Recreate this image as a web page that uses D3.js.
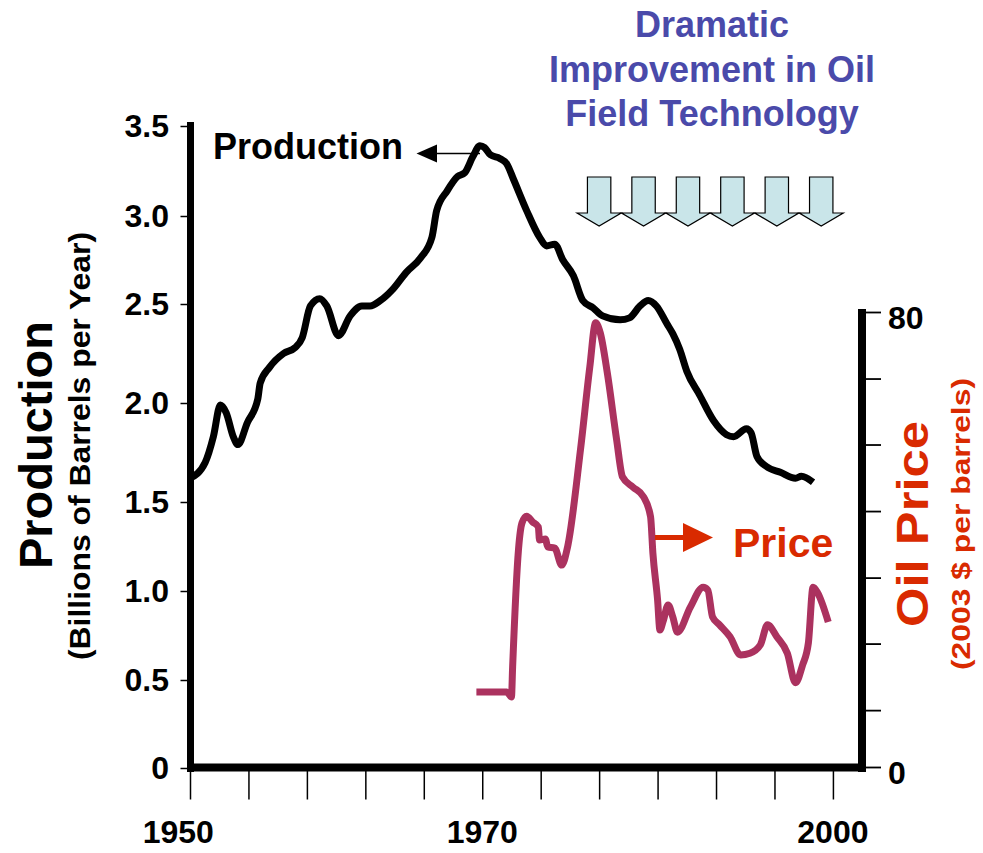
<!DOCTYPE html>
<meta charset="utf-8">
<head>
  <title>Oil production and price</title>
</head>

<style>
body {
  margin: 0;
  background: #fff;
}
svg text {
  font-family: "Liberation Sans", Arial, Helvetica, sans-serif;
  font-weight: bold;
}
</style>

<body>
  <div id="content">
    <svg width="983" height="853"></svg>
  </div>

  <script src="https://cdnjs.cloudflare.com/ajax/libs/d3/7.8.5/d3.min.js"></script>

  <script>
// production, billions of barrels per year
var prodYears = [1945.0, 1946.3, 1947.0, 1947.6, 1948.1, 1948.7, 1949.1, 1949.9, 1950.8, 1951.0,
  1951.8, 1953.0, 1954.0, 1954.6, 1955.3, 1956.1, 1956.7, 1957.7, 1958.7, 1959.7,
  1960.4, 1961.3, 1962.3, 1963.5, 1964.7, 1965.7, 1966.1, 1967.0, 1967.9, 1968.5,
  1969.2, 1969.8, 1970.2, 1970.7, 1971.5, 1972.1, 1972.7, 1973.8, 1974.9, 1975.5,
  1976.2, 1976.9, 1977.8, 1978.6, 1979.5, 1980.3, 1981.8, 1982.6, 1983.5, 1984.2,
  1984.9, 1985.8, 1986.3, 1986.9, 1987.5, 1988.6, 1989.8, 1990.9, 1991.5, 1992.6,
  1993.0, 1993.5, 1994.3, 1995.5, 1996.8, 1997.3, 1998.3];
var prodValues = [1.62, 1.70, 1.83, 1.99, 1.95, 1.83, 1.79, 1.90, 2.02, 2.10,
  2.18, 2.25, 2.28, 2.33, 2.49, 2.53, 2.49, 2.34, 2.44, 2.49,
  2.49, 2.52, 2.58, 2.68, 2.76, 2.88, 3.03, 3.14, 3.22, 3.24,
  3.33, 3.39, 3.38, 3.34, 3.32, 3.29, 3.20, 3.03, 2.88, 2.83,
  2.84, 2.75, 2.66, 2.52, 2.48, 2.44, 2.42, 2.43, 2.49, 2.52,
  2.49, 2.40, 2.35, 2.27, 2.16, 2.04, 1.91, 1.84, 1.83, 1.87,
  1.85, 1.73, 1.68, 1.65, 1.62, 1.63, 1.60];

// oil price, 2003 $ per barrel
var priceYears = [1969.5, 1972.1, 1972.5, 1972.6, 1973.1, 1973.4, 1973.8, 1974.3, 1974.8, 1974.9,
  1975.4, 1975.6, 1976.2, 1976.8, 1977.3, 1978.4, 1979.2, 1979.7, 1980.1, 1980.7,
  1981.5, 1982.0, 1982.9, 1983.8, 1984.4, 1984.6, 1985.0, 1985.2, 1985.5, 1985.9,
  1986.3, 1986.7, 1987.8, 1988.9, 1989.3, 1989.7, 1990.3, 1991.2, 1992.1, 1992.9,
  1993.8, 1994.4, 1995.2, 1996.1, 1996.8, 1997.4, 1997.9, 1998.3, 1998.7, 1999.6];
var priceValues = [13.2, 13.2, 12.3, 17.6, 38.2, 42.9, 44.1, 43.1, 42.2, 39.9,
  40.1, 38.7, 38.5, 35.5, 38.7, 55.7, 70.3, 78.1, 76.3, 69.3,
  57.5, 51.0, 49.2, 47.5, 44.0, 37.6, 29.4, 24.1, 25.8, 28.5,
  26.4, 23.7, 28.1, 31.6, 31.1, 26.4, 25.0, 22.9, 19.7, 20.0,
  21.5, 25.0, 22.9, 20.0, 14.8, 17.9, 21.8, 31.6, 30.6, 25.5];

var prodTicks = [0, 0.5, 1, 1.5, 2, 2.5, 3, 3.5];
var priceTicks = [0, 10, 21.7, 33.3, 45, 56.7, 68.3, 80];
var yearTicks = [1945, 1950, 1955, 1960, 1965, 1970, 1975, 1980, 1985, 1990, 1995, 2000];
var yearLabelYears = [1944, 1970, 2000];
var yearLabels = ['1950', '1970', '2000'];
var techArrowYears = [1980, 1983.8, 1987.6, 1991.4, 1995.2, 1999];
var titleLines = ['Dramatic', 'Improvement in Oil', 'Field Technology'];

var red = '#d92a00';

var svg = d3.select('#content svg');

var x = d3.scaleLinear()
  .domain([1945, 2002.83])
  .range([190, 866]);

// the left axis of the original is not evenly spaced
var yProd = d3.scaleLinear()
  .domain(prodTicks)
  .range([768, 680, 591, 502, 403, 304, 216, 126]);

var yPrice = d3.scaleLinear()
  .domain([0, 80])
  .range([767, 312]);

// Left axis
var gLeft = svg.append('g')
  .attr('transform', 'translate(190.5,0)')
  .call(d3.axisLeft(yProd)
    .tickValues(prodTicks)
    .tickSize(10)
    .tickSizeOuter(0)
    .tickPadding(11.5)
    .tickFormat(function(d) { return d === 0 ? '0' : d.toFixed(1); }));
gLeft.select('.domain').attr('stroke-width', 7).attr('d', 'M0,122V772');
gLeft.selectAll('.tick line').attr('stroke-width', 1.5);
gLeft.selectAll('.tick text').style('font-size', '32px').attr('fill', '#000');

// Right axis
var gRight = svg.append('g')
  .attr('transform', 'translate(862,0)')
  .call(d3.axisRight(yPrice)
    .tickValues(priceTicks)
    .tickSize(19)
    .tickSizeOuter(0)
    .tickPadding(7)
    .tickFormat(function(d) { return (d === 0 || d === 80) ? d : ''; }));
gRight.select('.domain').attr('stroke-width', 8).attr('d', 'M0,309V772');
gRight.selectAll('.tick line').attr('stroke-width', 1.8);
gRight.selectAll('.tick text').style('font-size', '32px').attr('fill', '#000').attr('dy', '0.5em');

// Bottom axis
var gBottom = svg.append('g')
  .attr('transform', 'translate(0,767.5)')
  .call(d3.axisBottom(x)
    .tickValues(yearTicks)
    .tickSize(32)
    .tickSizeOuter(0)
    .tickFormat(''));
gBottom.select('.domain').attr('stroke-width', 8).attr('d', 'M187,0H866');
gBottom.selectAll('.tick line').attr('stroke-width', 1.5);

svg.selectAll('.year-label')
  .data(yearLabels)
  .enter()
  .append('text')
  .attr('class', 'year-label')
  .attr('x', function(d, i) { return x(yearLabelYears[i]); })
  .attr('y', 843)
  .attr('text-anchor', 'middle')
  .style('font-size', '32px')
  .text(function(d) { return d; });

// Axis titles
svg.append('text')
  .attr('transform', 'translate(52,445) rotate(-90)')
  .attr('text-anchor', 'middle')
  .style('font-size', '47px')
  .text('Production');
svg.append('text')
  .attr('transform', 'translate(90,446) rotate(-90)')
  .attr('text-anchor', 'middle')
  .attr('textLength', 428)
  .attr('lengthAdjust', 'spacingAndGlyphs')
  .style('font-size', '29px')
  .text('(Billions of Barrels per Year)');

svg.append('text')
  .attr('transform', 'translate(928,524) rotate(-90)')
  .attr('text-anchor', 'middle')
  .attr('textLength', 206)
  .attr('lengthAdjust', 'spacingAndGlyphs')
  .attr('fill', red)
  .style('font-size', '44px')
  .text('Oil Price');
svg.append('text')
  .attr('transform', 'translate(970,524) rotate(-90)')
  .attr('text-anchor', 'middle')
  .attr('textLength', 292)
  .attr('lengthAdjust', 'spacingAndGlyphs')
  .attr('fill', red)
  .style('font-size', '25px')
  .text('(2003 $ per barrels)');

// Lines
var prodLine = d3.line()
  .x(function(d, i) { return x(prodYears[i]); })
  .y(function(d) { return yProd(d); })
  .curve(d3.curveMonotoneX);

var priceLine = d3.line()
  .x(function(d, i) { return x(priceYears[i]); })
  .y(function(d) { return yPrice(d); })
  .curve(d3.curveMonotoneX);

svg.append('path')
  .attr('d', priceLine(priceValues))
  .attr('fill', 'none')
  .attr('stroke', '#ab325f')
  .attr('stroke-width', 7)
  .attr('stroke-linejoin', 'round');

svg.append('path')
  .attr('d', prodLine(prodValues))
  .attr('fill', 'none')
  .attr('stroke', '#000')
  .attr('stroke-width', 7)
  .attr('stroke-linejoin', 'round');

// Production annotation
svg.append('text')
  .attr('x', 213)
  .attr('y', 159)
  .style('font-size', '36px')
  .text('Production');
svg.append('line')
  .attr('x1', 480).attr('y1', 153.5)
  .attr('x2', 436).attr('y2', 153.5)
  .attr('stroke', '#000')
  .attr('stroke-width', 1.5);
svg.append('polygon')
  .attr('points', '416.5,153.5 437,144.5 437,162.5')
  .attr('fill', '#000');

// Price annotation
svg.append('line')
  .attr('x1', 655).attr('y1', 537.5)
  .attr('x2', 686).attr('y2', 537.5)
  .attr('stroke', red)
  .attr('stroke-width', 5);
svg.append('polygon')
  .attr('points', '683,523 713,537.5 683,552')
  .attr('fill', red);
svg.append('text')
  .attr('x', 733)
  .attr('y', 557)
  .attr('fill', red)
  .style('font-size', '41px')
  .text('Price');

// Technology title and arrows
svg.selectAll('.title-line')
  .data(titleLines)
  .enter()
  .append('text')
  .attr('class', 'title-line')
  .attr('x', 712)
  .attr('y', function(d, i) { return 37 + i * 44.5; })
  .attr('text-anchor', 'middle')
  .attr('fill', '#4a4aaa')
  .style('font-size', '36px')
  .text(function(d) { return d; });

svg.selectAll('.tech-arrow')
  .data(techArrowYears)
  .enter()
  .append('polygon')
  .attr('class', 'tech-arrow')
  .attr('points', function(d) {
    var cx = x(d);
    return [
      [cx - 11.7, 177], [cx + 11.7, 177], [cx + 11.7, 213], [cx + 22, 213],
      [cx, 226], [cx - 22, 213], [cx - 11.7, 213]
    ].join(' ');
  })
  .attr('fill', '#c9e5e9')
  .attr('stroke', '#000')
  .attr('stroke-width', 1.2);

  </script>
</body>
</html>
